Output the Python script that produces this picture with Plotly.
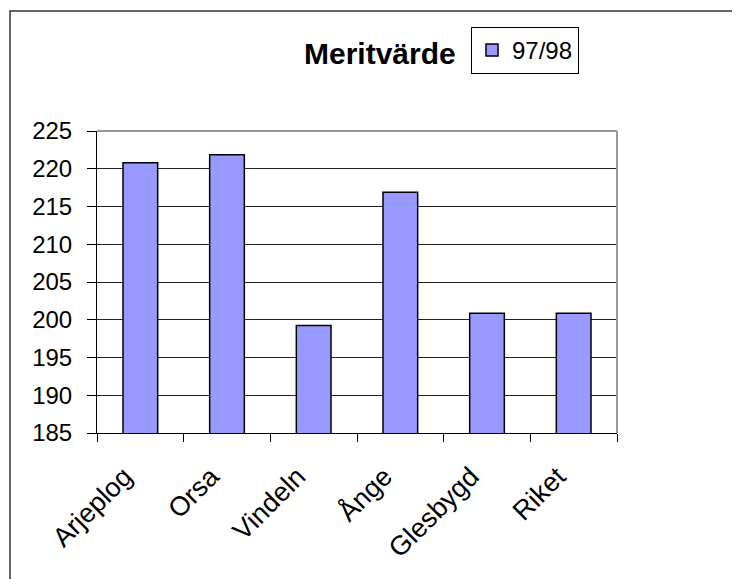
import plotly.graph_objects as go

categories = ["Arjeplog", "Orsa", "Vindeln", "Ånge", "Glesbygd", "Riket"]
values_9798 = [220.8, 221.85, 199.25, 216.9, 200.85, 200.85]
series_name = "97/98"
title_text = "Meritvärde"
y_ticks = [185, 190, 195, 200, 205, 210, 215, 220, 225]

OFF = 8  # browser default body margin
W, H = 740 - OFF, 579 - OFF
L, R, T, B = 97 - OFF, 617 - OFF, 131 - OFF, 433 - OFF  # plot area in figure px
pw, ph = R - L, B - T

def px(x):
    # x given in screenshot px
    return (x - OFF - L) / pw

def py(y):
    return (B - (y - OFF)) / ph

FONT = "Liberation Sans, Arial, sans-serif"

fig = go.Figure()
fig.add_trace(go.Bar(
    x=categories, y=values_9798, name=series_name,
    marker=dict(color="#9999FF", line=dict(color="#000000", width=1.5)),
))

fig.update_layout(
    width=W, height=H,
    margin=dict(l=L, r=W - R, t=T, b=H - B, pad=0),
    paper_bgcolor="white", plot_bgcolor="white",
    bargap=0.6,
    showlegend=True,
    font=dict(family=FONT, size=24, color="black"),
    legend=dict(
        x=px(471), y=py(27), xanchor="left", yanchor="top",
        bordercolor="black", borderwidth=1, bgcolor="white",
        font=dict(family=FONT, size=24, color="black"),
        itemwidth=30,
    ),
)

fig.update_xaxes(
    type="category", showgrid=False, showline=True, linecolor="black", linewidth=1,
    ticks="outside", tickson="boundaries", ticklen=8, tickcolor="black", tickwidth=1,
    tickangle=-45, tickfont=dict(family=FONT, size=27, color="black"),
    ticklabelstandoff=16, ticklabelshift=-16,
    range=[-0.5, len(categories) - 0.5],
)
fig.update_yaxes(
    range=[185, 225], tickvals=y_ticks, showgrid=True, gridcolor="#222222", gridwidth=1,
    showline=True, linecolor="black", linewidth=1, zeroline=False,
    ticks="outside", ticklen=9, tickcolor="black", tickwidth=1,
    tickfont=dict(family=FONT, size=24, color="black"), ticklabelstandoff=10,
)

# plot area top/right border (gray)
fig.add_shape(type="line", xref="paper", yref="paper", x0=0, y0=1, x1=1, y1=1,
              line=dict(color="#999999", width=2))
fig.add_shape(type="line", xref="paper", yref="paper", x0=1, y0=0, x1=1, y1=1,
              line=dict(color="#999999", width=2))

# outer chart frame (top and left edges visible)
fig.add_shape(type="path", xref="paper", yref="paper",
              path=f"M {px(10)},{py(600)} L {px(10)},{py(11)} L {px(760)},{py(11)}",
              line=dict(color="#333333", width=1.5))

fig.add_annotation(
    text=f"<b>{title_text}</b>", xref="paper", yref="paper",
    x=px(380), y=py(53), xanchor="center", yanchor="middle", showarrow=False,
    font=dict(family=FONT, size=30, color="black"),
)

fig.write_html("out.html")
